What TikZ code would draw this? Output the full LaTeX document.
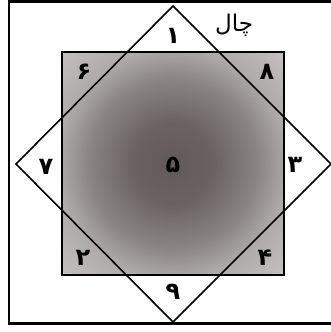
\documentclass[tikz,border=0pt]{standalone}
\usepackage{fontspec}
\newfontfamily\arabicfont[Script=Arabic]{DejaVu Sans}
\TeXXeTstate=1
\usetikzlibrary{calc}
\definecolor{shadein}{RGB}{98,90,90}
\definecolor{shadecore}{RGB}{106,98,98}
\definecolor{shademid}{RGB}{138,132,132}
\definecolor{shadeout}{RGB}{176,171,171}
\definecolor{shadeedge}{RGB}{198,194,194}
\pgfdeclareradialshading{glow}{\pgfpoint{0bp}{0bp}}{color(0bp)=(shadein); color(9bp)=(shadecore); color(19bp)=(shademid); color(26bp)=(shadeout); color(36bp)=(shadeedge); color(50bp)=(shadeedge)}
\def\mycolorl{black}

\begin{document}
\begin{tikzpicture}[x=1pt,y=-1pt]
\tikzstyle{frame}=[line width=2.6pt, color=\mycolorl]
\tikzstyle{edge}=[line width=1.6pt, color=\mycolorl, line join=miter]
\tikzstyle{digit}=[inner sep=0pt, color=\mycolorl, font=\arabicfont\bfseries\fontsize{24}{24}\selectfont]
\tikzstyle{word}=[inner sep=0pt, color=\mycolorl, font=\arabicfont\fontsize{23}{23}\selectfont]

\useasboundingbox (0,0) rectangle (331,332);

\coordinate (sqnw) at (62,52);
\path (sqnw) + (222,223) coordinate (sqse);
\path (sqnw) + (111,112) coordinate (mid);
\path (mid) + (0,-158) coordinate (top);
\path (mid) + (158,0) coordinate (right);
\path (mid) + (0,158) coordinate (bottom);
\path (mid) + (-157,0) coordinate (left);

\coordinate (fne) at (345,1.5);
\coordinate (fnw) at (9,1.5);
\coordinate (fsw) at (9,323.5);
\coordinate (fse) at (345,323.5);

\draw [frame] (fne) -- (fnw) -- (fsw) -- (fse);

\shade [shading=glow] (sqnw) rectangle (sqse);
\draw [edge] (sqnw) rectangle (sqse);
\draw [edge] (top) -- (right) -- (bottom) -- (left) -- cycle;

\node (n1) [digit, yshift=128pt] at (mid) {۱};
\node (n6) [digit, xshift=-89pt, yshift=92pt] at (mid) {۶};
\node (n8) [digit, xshift=94pt, yshift=92pt] at (mid) {۸};
\node (n7) [digit, xshift=-127pt, yshift=-3pt] at (mid) {۷};
\node (n5) [digit, yshift=-1pt] at (mid) {۵};
\node (n3) [digit, xshift=122pt, yshift=-1pt] at (mid) {۳};
\node (n2) [digit, xshift=-90pt, yshift=-94pt] at (mid) {۲};
\node (n4) [digit, xshift=92pt, yshift=-94pt] at (mid) {۴};
\node (n9) [digit, yshift=-128pt] at (mid) {۹};

\node (tag) [word, xshift=61pt, yshift=-19pt] at (top) {\beginR چال\endR};

\end{tikzpicture}
\end{document}
